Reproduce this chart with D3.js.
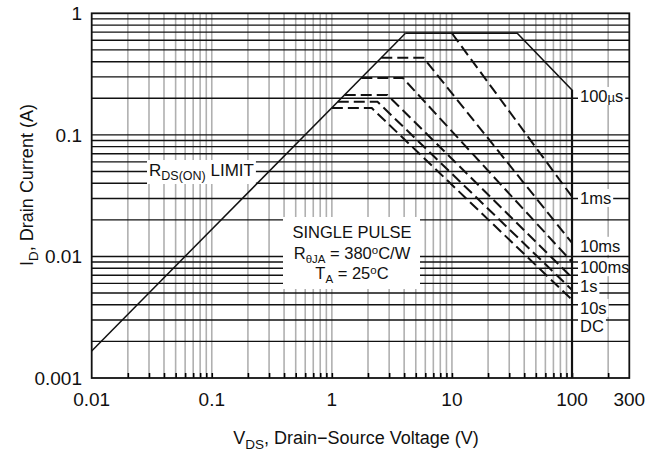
<!DOCTYPE html>
<html>
<head>
<meta charset="utf-8">
<script src="https://cdn.jsdelivr.net/npm/d3@7"></script>
<style>
  html, body { margin: 0; padding: 0; background: #fff; }
  svg { display: block; font-family: "Liberation Sans", Arial, Helvetica, sans-serif; }
</style>
</head>
<body>
<svg id="chart" width="649" height="453"></svg>
<script>
// Axis tick labels
const xTickValues = [0.01, 0.1, 1, 10, 100, 300];
const xTickLabels = ["0.01", "0.1", "1", "10", "100", "300"];
const yTickValues = [0.001, 0.01, 0.1, 1];
const yTickLabels = ["0.001", "0.01", "0.1", "1"];

// Safe operating area boundaries: [V_DS (V), I_D (A)]
const rdsOnLimit = [[0.01, 0.00167], [4.1, 0.685]];
const pulse100us = [[4.1, 0.685], [35, 0.685], [100, 0.234], [100, 0.001]];
const pulse1ms   = [[10, 0.685], [100, 0.031]];
const pulse10ms  = [[2.58, 0.43], [5.8, 0.43], [100, 0.0129]];
const pulse100ms = [[1.76, 0.294], [3.9, 0.294], [100, 0.0090]];
const pulse1s    = [[1.28, 0.213], [2.9, 0.213], [100, 0.0067]];
const pulse10s   = [[1.12, 0.187], [2.4, 0.187], [100, 0.0053]];
const pulseDC    = [[1.0, 0.166], [2.15, 0.166], [100, 0.0044]];

const curveLabels = ["100\u00B5s", "1ms", "10ms", "100ms", "1s", "10s", "DC"];
const curveLabelCurrents = [0.205, 0.0297, 0.012, 0.0080, 0.0056, 0.0037, 0.00263];

const svg = d3.select("#chart");
const plotL = 91.7, plotR = 629.3, plotT = 13.3, plotB = 378;

const x = d3.scaleLog().domain([0.01, 300]).range([plotL, plotR]);
const y = d3.scaleLog().domain([0.001, 1]).range([plotB, plotT]);

// Grid values at every 1..9 step of each decade
const xGrid = [];
for (let d = 0.01; d < 200; d *= 10) for (let k = 1; k <= 9; k++) {
  const v = +(d * k).toPrecision(3);
  if (v > 0.01 && v < 300) xGrid.push(v);
}
const yGrid = [];
for (let d = 0.001; d < 1; d *= 10) for (let k = 1; k <= 9; k++) {
  const v = +(d * k).toPrecision(3);
  if (v > 0.001 && v < 1) yGrid.push(v);
}

const g = svg.append("g");

// vertical grid (gray)
g.append("g").selectAll("line").data(xGrid).join("line")
  .attr("x1", d => x(d)).attr("x2", d => x(d))
  .attr("y1", plotT).attr("y2", plotB)
  .attr("stroke", "#b0b0b0").attr("stroke-width", 1.6);

// horizontal grid (black)
g.append("g").selectAll("line").data(yGrid).join("line")
  .attr("x1", plotL).attr("x2", plotR)
  .attr("y1", d => y(d)).attr("y2", d => y(d))
  .attr("stroke", "#111").attr("stroke-width", 1.4);

// bottom axis with inward ticks
const xAxis = d3.axisBottom(x).tickValues(xGrid).tickSize(-5).tickFormat("");
const xa = svg.append("g").attr("transform", `translate(0,${plotB})`).call(xAxis);
xa.select(".domain").remove();
xa.selectAll("line").attr("stroke", "#000").attr("stroke-width", 1.6);

// label with white backing box
function boxedText(parent, build, pad) {
  const grp = parent.append("g");
  const rect = grp.append("rect").attr("fill", "#fff");
  const t = grp.append("text").attr("fill", "#111");
  build(t);
  const b = t.node().getBBox();
  rect.attr("x", b.x - pad[0]).attr("y", b.y - pad[1])
      .attr("width", b.width + 2 * pad[0]).attr("height", b.height + 2 * pad[1]);
  return grp;
}

// Labels that sit on the grid
const labelLayer = svg.append("g");
boxedText(labelLayer, t => {
  t.attr("x", 149).attr("y", 176).attr("font-size", 17);
  t.append("tspan").text("R");
  t.append("tspan").attr("font-size", 12.5).attr("dy", 4).text("DS(ON)");
  t.append("tspan").attr("dy", -4).text(" LIMIT");
}, [2, 1]);

// Single pulse condition box
labelLayer.append("rect").attr("x", 283).attr("y", 217).attr("width", 137).attr("height", 72).attr("fill", "#fff");
const cond = labelLayer.append("text").attr("text-anchor", "middle").attr("font-size", 16.5).attr("fill", "#111");
cond.append("tspan").attr("x", 352).attr("y", 238).text("SINGLE PULSE");
const l2 = labelLayer.append("text").attr("text-anchor", "middle").attr("font-size", 16.5).attr("fill", "#111")
  .attr("x", 352).attr("y", 259);
l2.append("tspan").text("R");
l2.append("tspan").attr("font-size", 11.5).attr("dy", 4).text("\u03B8JA");
l2.append("tspan").attr("dy", -4).text(" = 380");
l2.append("tspan").attr("font-size", 11.5).attr("dy", -5).text("o");
l2.append("tspan").attr("dy", 5).text("C/W");
const l3 = labelLayer.append("text").attr("text-anchor", "middle").attr("font-size", 16.5).attr("fill", "#111")
  .attr("x", 352).attr("y", 279);
l3.append("tspan").text("T");
l3.append("tspan").attr("font-size", 11.5).attr("dy", 4).text("A");
l3.append("tspan").attr("dy", -4).text(" = 25");
l3.append("tspan").attr("font-size", 11.5).attr("dy", -5).text("o");
l3.append("tspan").attr("dy", 5).text("C");

// Curves
const line = d3.line().x(d => x(d[0])).y(d => y(d[1]));
const curves = svg.append("g").attr("fill", "none").attr("stroke", "#111");
curves.append("path").datum(rdsOnLimit).attr("d", line).attr("stroke-width", 1.5);
curves.append("path").datum(pulse100us).attr("d", line).attr("stroke-width", 1.6);
[pulse1ms, pulse10ms, pulse100ms, pulse1s, pulse10s, pulseDC].forEach(c => {
  curves.append("path").datum(c).attr("d", line)
    .attr("stroke-width", 2).attr("stroke-dasharray", "11,5");
});
// breakdown limit at 100 V drawn heavier
curves.append("line").attr("x1", x(100)).attr("x2", x(100))
  .attr("y1", y(0.234)).attr("y2", plotB).attr("stroke-width", 2.2);

// Curve names along the right edge
curveLabels.forEach((s, i) => {
  boxedText(svg, t => {
    t.attr("x", 580).attr("y", y(curveLabelCurrents[i]) + 5).attr("font-size", 16.5);
    if (s.indexOf("\u00B5") >= 0) {
      t.append("tspan").text("100");
      t.append("tspan").attr("font-size", 13).text("\u00B5");
      t.append("tspan").text("s");
    } else t.text(s);
  }, [2, 0]);
});

// frame
svg.append("rect").attr("x", plotL).attr("y", plotT).attr("width", plotR - plotL).attr("height", plotB - plotT)
  .attr("fill", "none").attr("stroke", "#111").attr("stroke-width", 1.8);

// Tick labels
svg.append("g").selectAll("text").data(xTickValues).join("text")
  .attr("x", d => x(d)).attr("y", 406).attr("text-anchor", "middle")
  .attr("font-size", 19).attr("fill", "#111")
  .text((d, i) => xTickLabels[i]);
svg.append("g").selectAll("text").data(yTickValues).join("text")
  .attr("x", 82).attr("y", d => y(d) + 7).attr("text-anchor", "end")
  .attr("font-size", 19).attr("fill", "#111")
  .text((d, i) => yTickLabels[i]);

// Axis titles
const xt = svg.append("text").attr("x", 356).attr("y", 444).attr("text-anchor", "middle")
  .attr("font-size", 18).attr("fill", "#111");
xt.append("tspan").text("V");
xt.append("tspan").attr("font-size", 13.5).attr("dy", 5).text("DS");
xt.append("tspan").attr("dy", -5).text(", Drain\u2212Source Voltage (V)");

const yt = svg.append("text").attr("transform", "translate(33,185) rotate(-90)")
  .attr("text-anchor", "middle").attr("font-size", 18).attr("fill", "#111");
yt.append("tspan").text("I");
yt.append("tspan").attr("font-size", 13.5).attr("dy", 5).text("D");
yt.append("tspan").attr("dy", -5).text(", Drain Current (A)");
</script>
</body>
</html>
